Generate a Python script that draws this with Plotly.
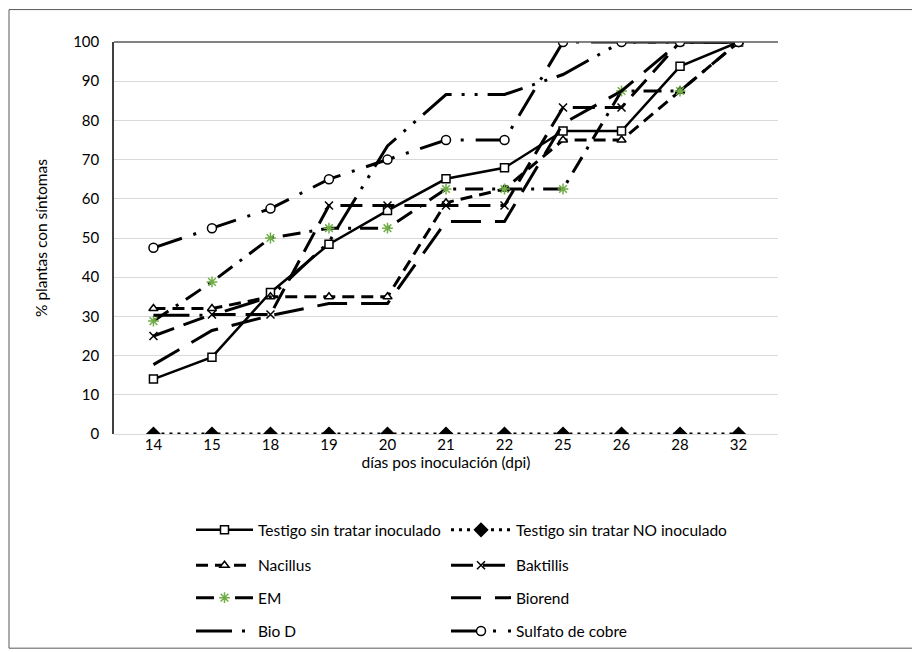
import plotly.graph_objects as go

dias = ["14", "15", "18", "19", "20", "21", "22", "25", "26", "28", "32"]
testigo = [14, 19.6, 36.1, 48.4, 57, 65.1, 67.9, 77.3, 77.3, 93.8, 100]
no_inoculado = [0, 0, 0, 0, 0, 0, 0, 0, 0, 0, 0]
nacillus = [32, 32, 35, 35, 35, 59, 62.5, 75, 75, 87.5, 100]
baktillis = [25, 30.5, 30.5, 58.3, 58.3, 58.3, 58.3, 83.3, 83.3, 100, 100]
em = [28.8, 38.8, 50, 52.5, 52.5, 62.5, 62.5, 62.5, 87.5, 87.5, 100]
biorend = [17.7, 26.4, 30.2, 33.3, 33.3, 54.2, 54.2, 79.2, 87.5, 100, 100]
bio_d = [30.3, 30.3, 35, 49, 73.5, 86.6, 86.6, 91.7, 100, 100, 100]
sulfato = [47.5, 52.5, 57.5, 65, 70, 75, 75, 100, 100, 100, 100]

names = ["Testigo sin tratar inoculado", "Testigo sin tratar NO inoculado",
         "Nacillus", "Baktillis", "EM", "Biorend", "Bio D", "Sulfato de cobre"]

FONT = "Lato"
W, H = 920, 652
L, R, T, B = 106, 150, 34, 219
pw = W - L - R
ph = H - T - B

# legend grid (two columns, four rows)
leg_cols = [183, 438]
leg_rows = [531, 567, 600, 634]

fig = go.Figure()
count = [0]

def add(y, name, dash, symbol=None, mcolor="white", mline="black", msize=9, width=3):
    i = count[0]
    count[0] += 1
    lname = "legend" if i == 0 else f"legend{i + 1}"
    mode = "lines+markers" if symbol else "lines"
    marker = dict(symbol=symbol, size=msize, color=mcolor,
                  line=dict(color=mline, width=1.5)) if symbol else None
    fig.add_trace(go.Scatter(x=dias, y=y, name=name, mode=mode,
                             line=dict(color="black", width=width, dash=dash),
                             marker=marker, legend=lname))
    col, row = i % 2, i // 2
    fig.update_layout({lname: dict(
        orientation="v", x=(leg_cols[col] - L) / pw, xanchor="left",
        y=(H - B - leg_rows[row]) / ph, yanchor="middle",
        font=dict(family=FONT, size=15.5, color="black"),
        itemwidth=60 if col == 1 else 57, bgcolor="rgba(0,0,0,0)")})

add(testigo, names[0], "solid", "square", msize=8, width=2.5)
add(no_inoculado, names[1], "3px,5px", "diamond", mcolor="black", msize=10, width=3)
add(nacillus, names[2], "12px,7px", "triangle-up", msize=8)
add(baktillis, names[3], "22px,10px", "x-thin", mcolor="black", msize=8)
add(em, names[4], "18px,9px,3px,9px", "asterisk-open", mcolor="#70AD47", mline="#70AD47", msize=9)
add(biorend, names[5], "30px,14px")
add(bio_d, names[6], "36px,10px,3px,10px,3px,10px")
add(sulfato, names[7], "30px,12px,3px,12px", "circle", msize=9)

fig.update_layout(
    width=W, height=H,
    margin=dict(l=L, r=R, t=T, b=B),
    paper_bgcolor="white", plot_bgcolor="white",
    font=dict(family=FONT, size=15, color="black"),
    showlegend=True,
    xaxis=dict(type="category", showgrid=False, ticks="", showline=False,
               tickfont=dict(family=FONT, size=15, color="black"),
               title=dict(text="días pos inoculación (dpi)", standoff=4,
                          font=dict(family=FONT, size=15.5, color="black"))),
    yaxis=dict(range=[0, 100], dtick=10, showgrid=True, gridcolor="#D9D9D9", gridwidth=1,
               zeroline=True, zerolinecolor="#D9D9D9", zerolinewidth=1,
               showline=True, linecolor="#404040", linewidth=1.5, ticks="",
               ticklabelstandoff=10,
               tickfont=dict(family=FONT, size=15, color="black"),
               title=dict(text="% plantas con síntomas", standoff=22,
                          font=dict(family=FONT, size=15.5, color="black"))),
    shapes=[dict(type="line", xref="paper", yref="paper", x0=0, x1=1, y0=1, y1=1,
                 line=dict(color="#595959", width=1.5)),
            dict(type="rect", xref="paper", yref="paper",
                 x0=(1 - L) / pw, x1=(W - 2 - L) / pw, y0=-(H - 1 - T - ph) / ph, y1=1 + (T - 1) / ph,
                 line=dict(color="#595959", width=1))],
)

fig.write_html("out.html")
